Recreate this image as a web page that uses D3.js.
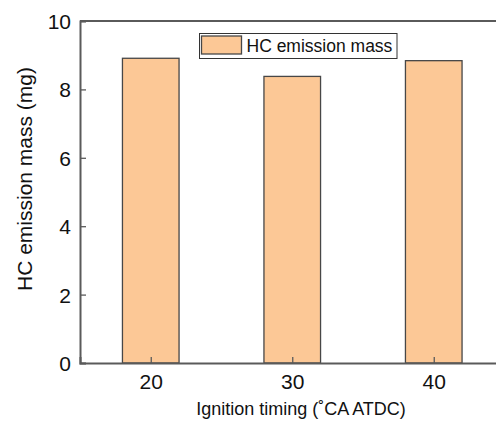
<!DOCTYPE html>
<html>
<head>
<meta charset="utf-8">
<script src="https://cdn.jsdelivr.net/npm/d3@7/dist/d3.min.js"></script>
<style>
  html, body { margin: 0; padding: 0; background: #fff; }
  svg { display: block; font-family: "Liberation Sans", Arial, sans-serif; }
</style>
</head>
<body>
<script>
// Ignition timing (°CA ATDC) and HC emission mass (mg)
const timings = [20, 30, 40];
const hcMass = [8.91, 8.38, 8.84];
const yTicks = [0, 2, 4, 6, 8, 10];
const xTicks = [20, 30, 40];
const seriesName = "HC emission mass";

const W = 496, H = 422;
const svg = d3.select("body").append("svg").attr("width", W).attr("height", H);

const x = d3.scaleLinear().domain([15, 45]).range([80, 504.5]);
const y = d3.scaleLinear().domain([0, 10]).range([363, 21]);
const barW = x(4) - x(0);

const axisColor = "#5a5a5a";
const fill = "#fcc896";
const edge = "#474747";

// bars
svg.append("g").selectAll("rect").data(timings).join("rect")
  .attr("x", (d) => x(d) - barW / 2)
  .attr("y", (d, i) => y(hcMass[i]))
  .attr("width", barW)
  .attr("height", (d, i) => y(0) - y(hcMass[i]))
  .attr("fill", fill)
  .attr("stroke", edge)
  .attr("stroke-width", 1.3);

// top frame line
svg.append("line")
  .attr("x1", x.range()[0]).attr("x2", W)
  .attr("y1", y(10)).attr("y2", y(10))
  .attr("stroke", axisColor).attr("stroke-width", 2);

// y axis with inward ticks
const yAxis = svg.append("g").attr("transform", `translate(${x.range()[0]},0)`)
  .call(d3.axisRight(y).tickValues(yTicks).tickSize(6).tickFormat(d3.format("d")));
yAxis.select(".domain").attr("stroke", axisColor).attr("stroke-width", 2);
yAxis.selectAll(".tick line").attr("stroke", axisColor).attr("stroke-width", 1.3);
yAxis.selectAll(".tick text")
  .attr("x", -9).attr("dy", "0.36em")
  .attr("text-anchor", "end")
  .attr("font-size", 21).attr("fill", "#111");

// x axis with inward ticks
const xAxis = svg.append("g").attr("transform", `translate(0,${y(0)})`)
  .call(d3.axisTop(x).tickValues(xTicks).tickSize(6).tickFormat(d3.format("d")));
xAxis.select(".domain").attr("stroke", axisColor).attr("stroke-width", 2);
xAxis.selectAll(".tick line").attr("stroke", axisColor).attr("stroke-width", 1.3);
xAxis.selectAll(".tick text")
  .attr("y", 26).attr("dy", 0)
  .attr("font-size", 21).attr("fill", "#111");

// axis titles
svg.append("text")
  .attr("x", 301).attr("y", 415)
  .attr("text-anchor", "middle")
  .attr("font-size", 18).attr("fill", "#111")
  .text("Ignition timing (˚CA ATDC)");

svg.append("text")
  .attr("transform", "translate(32,179) rotate(-90)")
  .attr("text-anchor", "middle")
  .attr("font-size", 21).attr("fill", "#111")
  .text("HC emission mass (mg)");

// legend
const lg = svg.append("g");
lg.append("rect")
  .attr("x", 199.5).attr("y", 33.5).attr("width", 197.5).attr("height", 25)
  .attr("fill", "#fff").attr("stroke", "#333").attr("stroke-width", 1);
lg.append("rect")
  .attr("x", 201.5).attr("y", 36).attr("width", 40).attr("height", 18)
  .attr("fill", fill).attr("stroke", edge).attr("stroke-width", 1.3);
lg.append("text")
  .attr("x", 246.5).attr("y", 51.5)
  .attr("font-size", 17.5).attr("fill", "#111")
  .text(seriesName);
</script>
</body>
</html>
